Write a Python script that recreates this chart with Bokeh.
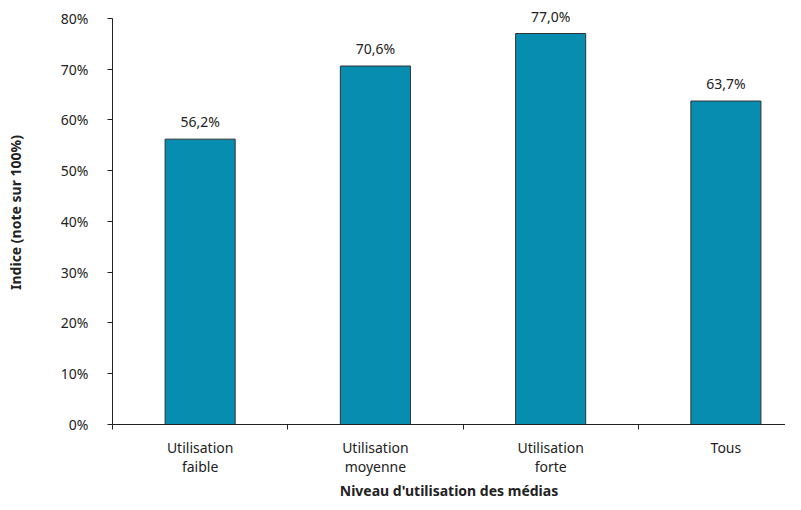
from bokeh.plotting import figure
from bokeh.models import Range1d, FixedTicker, ColumnDataSource
from bokeh.core.properties import value
from bokeh.embed import file_html
from bokeh.resources import INLINE

categories = ["Utilisation\nfaible", "Utilisation\nmoyenne", "Utilisation\nforte", "Tous"]
values = [0.562, 0.706, 0.770, 0.637]
value_labels = ["56,2%", "70,6%", "77,0%", "63,7%"]
y_ticks = [0, 0.1, 0.2, 0.3, 0.4, 0.5, 0.6, 0.7, 0.8]
y_tick_labels = ["0%", "10%", "20%", "30%", "40%", "50%", "60%", "70%", "80%"]

FONT = "Noto Sans"
xs = [i + 0.5 for i in range(len(categories))]
src = ColumnDataSource(dict(x=xs, top=values, lab=value_labels))

p = figure(width=785, height=502, output_backend="svg", toolbar_location=None,
           x_range=Range1d(0, 3.84), y_range=Range1d(0, 0.835),
           min_border_left=112, min_border_right=0, min_border_top=0, min_border_bottom=76)
p.outline_line_color = None
p.grid.grid_line_color = None
p.background_fill_color = "white"

p.vbar(x="x", top="top", width=0.4, source=src, fill_color="#078DB0",
       line_color="#333333", line_width=1)
p.text(x="x", y="top", text="lab", source=src, text_align="center", text_baseline="bottom",
       y_offset=-8, text_font=value(FONT), text_font_size="14px", text_color="#222222")

# y axis
p.yaxis.ticker = FixedTicker(ticks=y_ticks)
p.yaxis.bounds = (0, 0.8)
p.yaxis.major_label_overrides = {t: l for t, l in zip(y_ticks, y_tick_labels)}
p.yaxis.minor_tick_line_color = None
p.yaxis.major_tick_in = 0
p.yaxis.major_tick_out = 5
p.yaxis.axis_line_color = "#222222"
p.yaxis.major_tick_line_color = "#222222"
p.yaxis.major_label_standoff = 19
p.yaxis.major_label_text_font = FONT
p.yaxis.major_label_text_font_size = "14px"
p.yaxis.major_label_text_color = "#222222"
p.yaxis.axis_label = "Indice (note sur 100%)"
p.yaxis.axis_label_text_font = FONT
p.yaxis.axis_label_text_font_style = "bold"
p.yaxis.axis_label_text_font_size = "14px"
p.yaxis.axis_label_text_color = "#222222"
p.yaxis.axis_label_standoff = 33

# x axis
p.xaxis.ticker = FixedTicker(ticks=xs, minor_ticks=list(range(len(categories) + 1)))
p.xaxis.major_label_overrides = {x: c for x, c in zip(xs, categories)}
p.xaxis.major_tick_line_color = None
p.xaxis.major_tick_in = 0
p.xaxis.major_tick_out = 5
p.xaxis.minor_tick_in = 0
p.xaxis.minor_tick_out = 5
p.xaxis.minor_tick_line_color = "#222222"
p.xaxis.axis_line_color = "#222222"
p.xaxis.major_label_standoff = 8
p.xaxis.major_label_text_font = FONT
p.xaxis.major_label_text_font_size = "14px"
p.xaxis.major_label_text_line_height = 1.0
p.xaxis.major_label_text_color = "#222222"
p.xaxis.axis_label = "Niveau d'utilisation des médias"
p.xaxis.axis_label_text_font = FONT
p.xaxis.axis_label_text_font_style = "bold"
p.xaxis.axis_label_text_font_size = "14px"
p.xaxis.axis_label_text_color = "#222222"
p.xaxis.axis_label_standoff = 2

open("out.html", "w").write(file_html(p, INLINE))
